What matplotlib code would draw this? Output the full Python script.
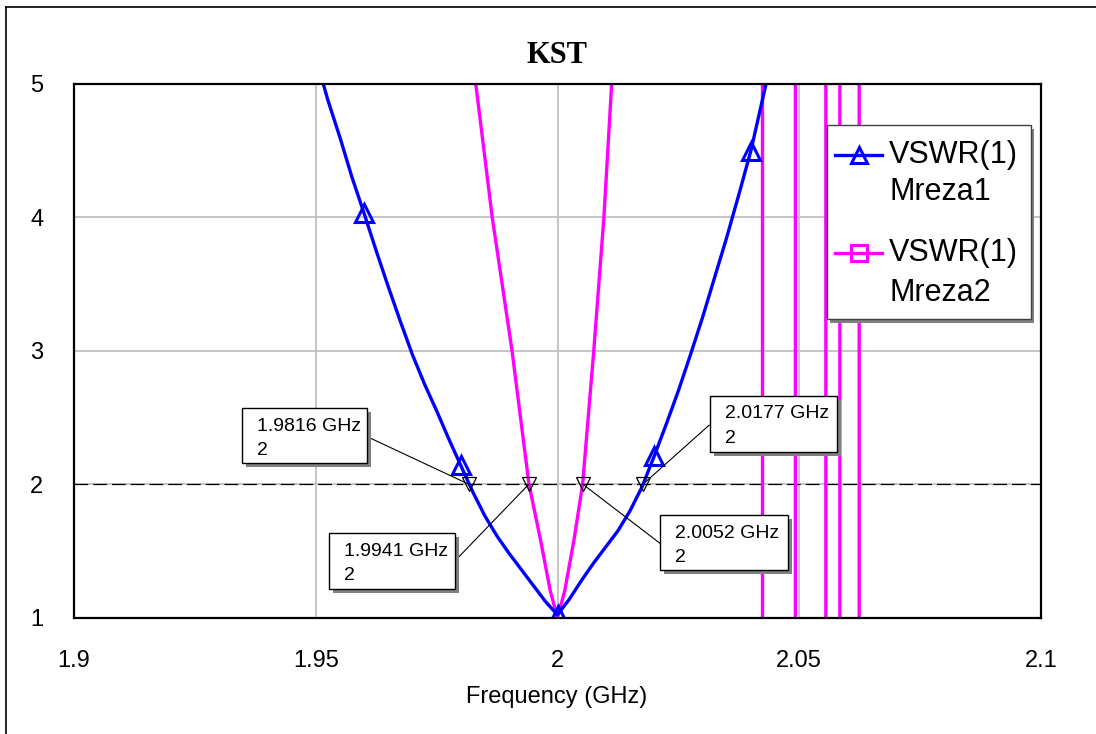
import matplotlib
matplotlib.use('Agg')
import matplotlib.pyplot as plt
from matplotlib.patches import Rectangle, ConnectionPatch
from matplotlib.lines import Line2D

# ---------------- data ----------------
freq1 = [1.9500, 1.9525, 1.9550, 1.9575, 1.9600, 1.9625, 1.9650, 1.9675, 1.9700,
         1.9725, 1.9750, 1.9775, 1.9800, 1.9825, 1.9850, 1.9875, 1.9900, 1.9925,
         1.9950, 1.9975, 2.0000, 2.0025, 2.0050, 2.0075, 2.0100, 2.0125, 2.0150,
         2.0175, 2.0200, 2.0225, 2.0250, 2.0275, 2.0300, 2.0325, 2.0350, 2.0375,
         2.0400, 2.0425, 2.0450]
vswr1 = [5.20, 4.88, 4.60, 4.30, 4.03, 3.75, 3.48, 3.22, 2.97,
         2.75, 2.55, 2.34, 2.14, 1.94, 1.76, 1.61, 1.48, 1.36,
         1.24, 1.12, 1.02, 1.14, 1.28, 1.41, 1.53, 1.65, 1.80,
         1.98, 2.21, 2.45, 2.70, 2.97, 3.25, 3.55, 3.85, 4.17,
         4.50, 4.90, 5.30]

freq2 = [1.9800, 1.9831, 1.9865, 1.9906, 1.9941, 1.9965, 1.9985, 2.0000, 2.0015,
         2.0034, 2.0052, 2.0075, 2.0096, 2.0112, 2.0150, 2.0300, 2.0422, 2.0426,
         2.0490, 2.0494, 2.0553, 2.0557, 2.0582, 2.0586, 2.0622, 2.0626, 2.0800,
         2.1000]
vswr2 = [6.5, 5.0, 4.0, 3.0, 2.0, 1.58, 1.2, 1.0, 1.2,
         1.58, 2.0, 3.0, 4.0, 5.0, 9.0, 40.0, 400.0, -400.0,
         -400.0, 400.0, 400.0, -400.0, -400.0, 400.0, 400.0, -400.0, -400.0,
         -400.0]

series_names = ['VSWR(1)\nMreza1', 'VSWR(1)\nMreza2']
marker_freq = [1.9816, 1.9941, 2.0052, 2.0177]
marker_val = [2, 2, 2, 2]
marker_labels = ['1.9816 GHz', '1.9941 GHz', '2.0052 GHz', '2.0177 GHz']
ref_level = 2

xticks = [1.9, 1.95, 2.0, 2.05, 2.1]
xticklabels = ['1.9', '1.95', '2', '2.05', '2.1']
yticks = [1, 2, 3, 4, 5]
yticklabels = ['1', '2', '3', '4', '5']
title = 'KST'
xlabel = 'Frequency (GHz)'

# ---------------- style ----------------
BLUE = '#0000ff'
MAG = '#ff00ff'
W, H = 1096, 734
SANS = ['Liberation Sans', 'DejaVu Sans']

plt.rcParams['font.family'] = SANS

fig = plt.figure(figsize=(W / 100, H / 100), dpi=100)
fig.patch.set_facecolor('white')

def fx(x):
    return x / W

def fy(y):
    return 1 - y / H

ax_l, ax_r, ax_t, ax_b = 74, 1041, 84, 617.5
ax = fig.add_axes([fx(ax_l), fy(ax_b), (ax_r - ax_l) / W, (ax_b - ax_t) / H])
ax.set_xlim(1.9, 2.1)
ax.set_ylim(1, 5)
ax.set_xticks(xticks)
ax.set_xticklabels(xticklabels)
ax.set_yticks(yticks)
ax.set_yticklabels(yticklabels)
ax.tick_params(axis='both', length=0, labelsize=17)
ax.tick_params(axis='x', pad=23.5)
ax.tick_params(axis='y', pad=22)
ax.grid(True, color='#c0c0c0', lw=1.3, zorder=0)
for s in ax.spines.values():
    s.set_linewidth(1.6)
    s.set_color('black')
    s.set_zorder(6)

# reference dashed line
ax.axhline(ref_level, color='black', lw=0.9, dashes=(11, 4), zorder=2)

# series
ax.plot(freq2, vswr2, color=MAG, lw=2.4, zorder=3)
ax.plot(freq1, vswr1, color=BLUE, lw=2.4, zorder=4,
        marker='^', markevery=(4, 8), markersize=13, markerfacecolor='none',
        markeredgecolor=BLUE, markeredgewidth=2.2)

# marker triangles
ax.plot(marker_freq, marker_val, linestyle='none', marker='v', markersize=10,
        markerfacecolor='none', markeredgecolor='black', markeredgewidth=0.9, zorder=5)

# annotation boxes (pixel layout)
boxes = [(241.7, 408.3, 366.7, 463.3), (329, 533.3, 455, 589),
         (660, 515, 788.3, 570), (710, 396, 836.7, 451.7)]
leaders = [(370, 438), (459, 556.7), (660, 543.3), (709.3, 425)]
for (l, t, r, b), (lx, ly), f, v, lab in zip(boxes, leaders, marker_freq, marker_val, marker_labels):
    fig.add_artist(Rectangle((fx(l + 4), fy(b + 4)), (r - l) / W, (b - t) / H,
                             transform=fig.transFigure, facecolor='#808080',
                             edgecolor='none', zorder=7))
    fig.add_artist(Rectangle((fx(l), fy(b)), (r - l) / W, (b - t) / H,
                             transform=fig.transFigure, facecolor='white',
                             edgecolor='black', lw=1.0, zorder=8))
    fig.text(fx(l + 15), fy(t + 18), lab, ha='left', va='center', fontsize=14, zorder=9)
    fig.text(fx(l + 15), fy(t + 42), str(v), ha='left', va='center', fontsize=14, zorder=9)
    con = ConnectionPatch(xyA=(lx, H - ly), coordsA='figure pixels',
                          xyB=(f, v), coordsB=ax.transData,
                          color='black', lw=0.8, zorder=6)
    fig.add_artist(con)

# legend (manual, pixel layout)
lg_l, lg_t, lg_r, lg_b = 827, 125, 1030.7, 319.3
fig.add_artist(Rectangle((fx(lg_l + 3), fy(lg_b + 4)), (lg_r - lg_l) / W, (lg_b - lg_t) / H,
                         transform=fig.transFigure, facecolor='#808080', edgecolor='none', zorder=7))
fig.add_artist(Rectangle((fx(lg_l), fy(lg_b)), (lg_r - lg_l) / W, (lg_b - lg_t) / H,
                         transform=fig.transFigure, facecolor='white', edgecolor='#404040',
                         lw=1.0, zorder=8))
entries = [(BLUE, '^', 155, 191.7, series_names[0], 11),
           (MAG, 's', 253.3, 293.3, series_names[1], 11)]
for col, mk, y1, y2, name, ms in entries:
    fig.add_artist(Line2D([fx(835), fx(882)], [fy(y1), fy(y1)], transform=fig.transFigure,
                          color=col, lw=2.4, zorder=9))
    fig.add_artist(Line2D([fx(859)], [fy(y1)], transform=fig.transFigure, color=col,
                          marker=mk, markersize=ms, markerfacecolor='none',
                          markeredgecolor=col, markeredgewidth=2.2, zorder=10))
    l1, l2 = name.split('\n')
    fig.text(fx(889), fy(y1), l1, ha='left', va='center', fontsize=22, zorder=10)
    fig.text(fx(889), fy(y2), l2, ha='left', va='center', fontsize=22, zorder=10)

# title and axis label
fig.text(fx(557), fy(55.5), title, ha='center', va='center', fontsize=22,
         fontweight='bold', family=['Liberation Serif', 'DejaVu Serif'])
fig.text(fx(557), fy(696.7), xlabel, ha='center', va='center', fontsize=17)

# outer border (left and top visible)
fig.add_artist(Line2D([fx(6), fx(6)], [0, fy(7)], transform=fig.transFigure,
                      color='black', lw=1.2, zorder=1))
fig.add_artist(Line2D([fx(6), 1], [fy(7), fy(7)], transform=fig.transFigure,
                      color='black', lw=1.2, zorder=1))

fig.savefig('out.png', dpi=100)
